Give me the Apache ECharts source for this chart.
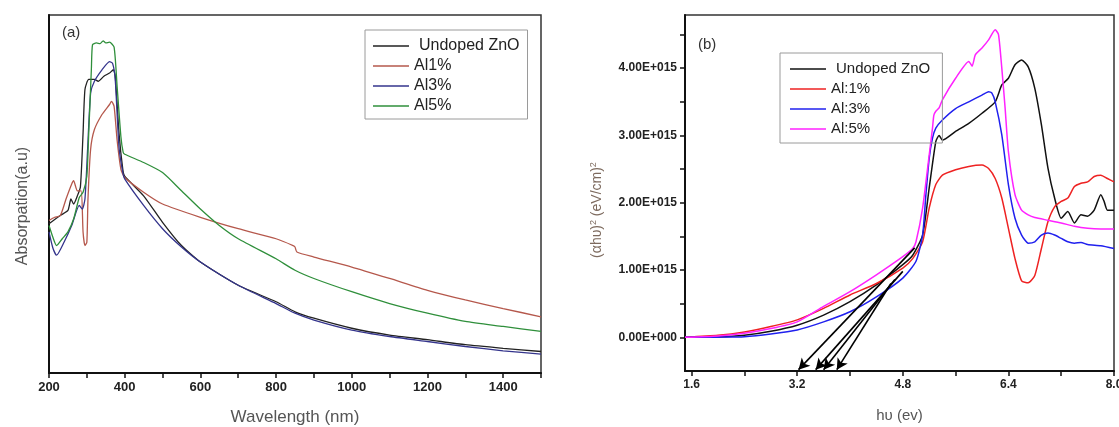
<!DOCTYPE html>
<html>
<head>
<meta charset="utf-8">
<script src="https://cdn.jsdelivr.net/npm/echarts@6/dist/echarts.min.js"></script>
<style>
html,body{margin:0;padding:0;background:#fff;}
#c{width:1119px;height:427px;}
</style>
</head>
<body>
<div id="c"></div>
<script>
// ---------- Panel (a): absorption vs wavelength ----------
const wlUndoped  = [200,230,250,258,265,275,283,290,295,305,320,330,345,360,370,375,385,395,400,450,500,550,600,700,800,850,900,1000,1100,1200,1300,1400,1500];
const absUndoped = [41.7,44,45.4,48.6,47.2,49.5,52,67,79.2,82,82,81.5,82.9,83.8,84.7,83,67,56.9,55,49.5,42.1,35.6,31,24.5,19.9,17.1,15.3,12.5,10.6,9.3,7.9,6.9,6];

const wlAl1  = [200,215,230,245,260,265,275,285,290,295,300,303,310,320,340,360,365,372,380,390,400,450,500,600,700,800,845,850,855,900,1000,1100,1200,1300,1400,1500];
const absAl1 = [42.6,43.5,44,48.6,52.8,53.7,50.9,50.9,39.4,35.6,36.5,48.6,62.5,68,72.2,75,75.9,74.5,65,56.9,54.6,50.5,47.2,43.5,40.3,37.5,35.6,35.2,33.8,32.4,29.6,26.4,23.1,20.4,18,15.7];

const wlAl3  = [200,210,220,240,260,280,288,295,302,310,320,340,360,368,375,385,395,400,450,500,550,600,700,800,850,900,1000,1100,1200,1300,1400,1500];
const absAl3 = [39.4,35,32.9,36.6,41.2,46.8,45.8,48.6,62.5,78.2,81.5,84.7,87,86.5,82,63,56,54.2,46.8,40.3,35.2,31,24.5,19.4,16.7,14.8,12,10.2,8.8,7.4,6.2,5.3];

const wlAl5  = [200,210,220,235,250,265,280,290,300,305,312,315,325,335,343,350,360,372,380,390,396,400,450,500,550,600,650,700,800,850,900,1000,1100,1200,1300,1400,1500];
const absAl5 = [41.2,38,35.6,37.5,39.4,43,49,50.5,55,67,85,91.7,92.2,92,92.8,92.2,92.4,91,80,66,61.6,61.1,58.8,56,50.9,45.8,41.2,37.5,31.9,28.7,26.4,22.7,19.4,16.7,14.4,13,11.6];

const namesA = ['Undoped ZnO','Al1%','Al3%','Al5%'];
const wlLabels = [200,400,600,800,1000,1200,1400];
const wlTicks  = [200,300,400,500,600,700,800,900,1000,1100,1200,1300,1400,1500];

// ---------- Panel (b): (alpha h nu)^2 vs h nu, in units of 1E+015 ----------
const evUndoped = [1.5,2.0,2.4,2.8,3.2,3.6,4.0,4.4,4.8,4.95,5.1,5.2,5.3,5.35,5.4,5.6,5.8,6.0,6.2,6.3,6.4,6.5,6.6,6.7,6.8,6.9,7.0,7.1,7.2,7.3,7.4,7.5,7.6,7.7,7.8,7.85,7.9,8.0];
const tUndoped  = [0,0.005,0.03,0.09,0.18,0.33,0.53,0.78,1.08,1.22,1.52,2.22,2.91,3.0,2.93,3.06,3.18,3.33,3.5,3.75,3.85,4.05,4.12,4.02,3.7,3.16,2.51,2.07,1.77,1.87,1.7,1.82,1.8,1.89,2.12,2.02,1.89,1.89];

const evAl1 = [1.5,2.0,2.4,2.8,3.2,3.6,4.0,4.4,4.8,4.95,5.1,5.2,5.3,5.4,5.6,5.8,6.0,6.1,6.2,6.3,6.4,6.5,6.6,6.7,6.8,6.9,7.0,7.1,7.2,7.3,7.4,7.5,7.6,7.7,7.8,7.9,8.0];
const tAl1  = [0,0.03,0.08,0.16,0.26,0.43,0.63,0.8,1.03,1.17,1.42,1.92,2.27,2.41,2.49,2.54,2.56,2.51,2.36,2.07,1.62,1.17,0.84,0.81,0.92,1.32,1.72,1.94,2.02,2.07,2.24,2.29,2.31,2.39,2.41,2.36,2.31];

const evAl3 = [1.5,2.0,2.4,2.8,3.2,3.6,4.0,4.4,4.8,5.0,5.1,5.15,5.2,5.25,5.3,5.4,5.6,5.8,6.0,6.1,6.15,6.2,6.3,6.4,6.5,6.6,6.7,6.8,6.9,7.0,7.1,7.2,7.3,7.4,7.5,7.6,7.8,8.0];
const tAl3  = [0,0.003,0.01,0.05,0.11,0.23,0.38,0.6,0.88,1.13,1.52,2.12,2.66,2.96,3.11,3.23,3.4,3.5,3.6,3.65,3.63,3.5,3.01,2.27,1.77,1.52,1.4,1.42,1.52,1.55,1.52,1.47,1.42,1.4,1.41,1.38,1.36,1.32];

const evAl5 = [1.5,2.0,2.4,2.8,3.2,3.6,4.0,4.4,4.8,4.95,5.0,5.1,5.2,5.25,5.27,5.3,5.35,5.4,5.6,5.8,5.85,5.9,6.0,6.1,6.2,6.25,6.3,6.35,6.4,6.5,6.6,6.7,6.8,7.0,7.2,7.4,7.6,7.8,8.0];
const tAl5  = [0,0.02,0.06,0.13,0.23,0.46,0.68,0.93,1.2,1.32,1.42,1.92,2.71,3.11,3.3,3.36,3.41,3.53,3.85,4.1,4.03,4.2,4.3,4.42,4.57,4.5,4.0,3.41,2.76,2.12,1.89,1.82,1.78,1.74,1.7,1.65,1.62,1.61,1.61];

const namesB = ['Undoped ZnO ','Al:1%','Al:3%','Al:5%'];
const evLabels = [1.6,3.2,4.8,6.4,8.0];
const evTicks  = [1.6,2.4,3.2,4.0,4.8,5.6,6.4,7.2,8.0];
const tLabels  = [0,1,2,3,4];
const tTicks   = [0,0.5,1,1.5,2,2.5,3,3.5,4,4.5];

// Tangent extrapolation arrows (start -> end), [hv, value]
const arrowStart = [[4.98,1.33],[4.8,0.98],[4.68,0.86],[4.62,0.80]];
const arrowEnd   = [[3.22,-0.48],[3.48,-0.48],[3.60,-0.48],[3.80,-0.48]];

function pairs(xs, ys){ return xs.map((x,i)=>[x, ys[i]]); }

const FONT = 'Liberation Sans, Arial, sans-serif';
const colorsA = ['#222222','#b5584c','#34348c','#2f8f3b'];
const colorsB = ['#111111','#ee2222','#2020ee','#ff22ff'];

const dataA = [pairs(wlUndoped,absUndoped), pairs(wlAl1,absAl1), pairs(wlAl3,absAl3), pairs(wlAl5,absAl5)];
const dataB = [pairs(evUndoped,tUndoped), pairs(evAl1,tAl1), pairs(evAl3,tAl3), pairs(evAl5,tAl5)];

const series = [];
dataA.forEach((d,i)=>{
  series.push({
    name: namesA[i], type:'line', xAxisIndex:0, yAxisIndex:0, data:d,
    symbol:'none', smooth:0.2, lineStyle:{color:colorsA[i], width:1.3}, itemStyle:{color:colorsA[i]},
    silent:true, animation:false
  });
});
dataB.forEach((d,i)=>{
  const s = {
    name: namesB[i], type:'line', xAxisIndex:1, yAxisIndex:1, data:d,
    symbol:'none', smooth:0.2, lineStyle:{color:colorsB[i], width:1.5}, itemStyle:{color:colorsB[i]},
    silent:true, animation:false
  };
  if (i === 0) {
    s.markLine = {
      silent:true, animation:false,
      symbol:['none','arrow'], symbolSize:[9,11],
      label:{show:false},
      lineStyle:{color:'#000', width:1.6, type:'solid'},
      data: arrowStart.map((p,k)=>[{coord:p},{coord:arrowEnd[k]}])
    };
  }
  series.push(s);
});

function legendCfg(names, left, top, fontSize, pad){
  return {
    orient:'vertical', left:left, top:top,
    icon:'rect', itemWidth:36, itemHeight:1.6, itemGap:0,
    padding:pad,
    borderColor:'#9a9a9a', borderWidth:1,
    selectedMode:false,
    textStyle:{fontFamily:FONT, fontSize:fontSize, color:'#222', lineHeight:20},
    data: names.map((n,i)=> i===0 ? {name:n, textStyle:{padding:[0,0,0,5]}} : {name:n})
  };
}

const chart = echarts.init(document.getElementById('c'), null, {renderer:'canvas'});
chart.setOption({
  backgroundColor:'#fff',
  animation:false,
  grid:[
    {left:49, top:15, width:492, height:358, show:true, borderColor:'#333', borderWidth:1.5, containLabel:false, outerBoundsMode:'none'},
    {left:685, top:15, width:429, height:356, show:true, borderColor:'#333', borderWidth:1.5, containLabel:false, outerBoundsMode:'none'}
  ],
  legend:[
    legendCfg(namesA, 365, 30, 16, [6,8,3,8]),
    legendCfg(namesB, 780, 53, 15, [6,8,4,10])
  ],
  xAxis:[
    {
      type:'value', gridIndex:0, min:200, max:1500,
      name:'Wavelength (nm)', nameLocation:'middle', nameGap:36,
      nameTextStyle:{fontFamily:FONT, fontSize:17, color:'#555'},
      axisLine:{show:true, onZero:false, lineStyle:{color:'#111', width:2}},
      axisTick:{show:true, inside:false, length:5, lineStyle:{color:'#111', width:1.5}, customValues:wlTicks},
      axisLabel:{customValues:wlLabels, formatter:v=>String(v), fontFamily:FONT, fontSize:13, fontWeight:'bold', color:'#222', margin:8},
      splitLine:{show:false}
    },
    {
      type:'value', gridIndex:1, min:1.5, max:8.0,
      name:'hυ (ev)', nameLocation:'middle', nameGap:37,
      nameTextStyle:{fontFamily:FONT, fontSize:15, color:'#555'},
      axisLine:{show:true, onZero:false, lineStyle:{color:'#111', width:2}},
      axisTick:{show:true, inside:false, length:5, lineStyle:{color:'#111', width:1.5}, customValues:evTicks},
      axisLabel:{customValues:evLabels, formatter:v=>Number(v).toFixed(1), fontFamily:FONT, fontSize:12, fontWeight:'bold', color:'#222', margin:8},
      splitLine:{show:false}
    }
  ],
  yAxis:[
    {
      type:'value', gridIndex:0, min:0, max:100,
      name:'Absorpation(a.u)', nameLocation:'middle', nameGap:18,
      nameTextStyle:{fontFamily:FONT, fontSize:16, color:'#555', padding:[0,24,0,0]},
      axisLine:{show:true, onZero:false, lineStyle:{color:'#111', width:2}},
      axisTick:{show:false}, axisLabel:{show:false}, splitLine:{show:false}
    },
    {
      type:'value', gridIndex:1, min:-0.5, max:4.79,
      name:'(αhυ){sup|2} (eV/cm){sup|2}', nameLocation:'middle', nameGap:79,
      nameTextStyle:{fontFamily:FONT, fontSize:14, color:'#7d6a5e', padding:[0,34,0,0],
        rich:{sup:{fontFamily:FONT, fontSize:9, color:'#7d6a5e', verticalAlign:'top', padding:[0,0,8,0]}}},
      axisLine:{show:true, onZero:false, lineStyle:{color:'#111', width:2}},
      axisTick:{show:true, inside:false, length:5, lineStyle:{color:'#111', width:1.5}, customValues:tTicks},
      axisLabel:{customValues:tLabels, formatter:v=> (Number(v)===0 ? '0.00E+000' : Number(v).toFixed(2)+'E+015'),
        fontFamily:FONT, fontSize:12, fontWeight:'bold', color:'#222', margin:8},
      splitLine:{show:false}
    }
  ],
  graphic:[
    {type:'text', left:62, top:25, style:{text:'(a)', fontFamily:FONT, fontSize:15, fill:'#333'}},
    {type:'text', left:698, top:37, style:{text:'(b)', fontFamily:FONT, fontSize:15, fill:'#333'}}
  ],
  series:series
});
</script>
</body>
</html>
